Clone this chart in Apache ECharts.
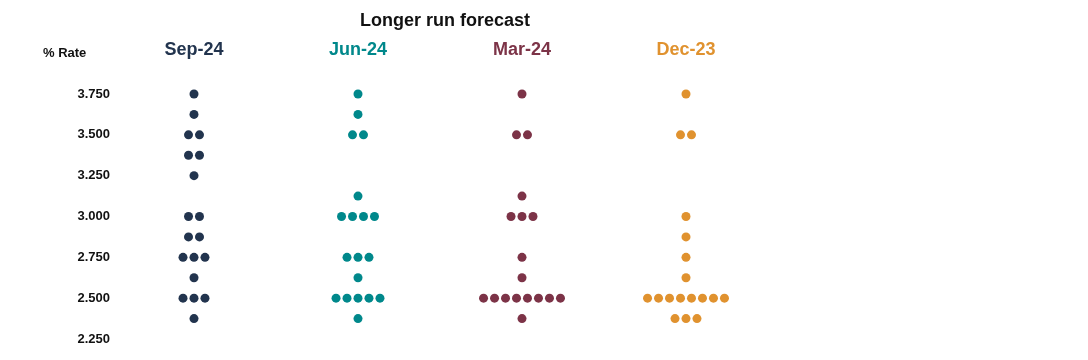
<!DOCTYPE html>
<html>
<head>
<meta charset="utf-8">
<script src="https://cdn.jsdelivr.net/npm/echarts@6/dist/echarts.min.js"></script>
<style>html,body{margin:0;padding:0;background:#fff}#c{width:1088px;height:360px}</style>
</head>
<body>
<div id="c"></div>
<script>
// Columns (meetings)
const categories = ['Sep-24', 'Jun-24', 'Mar-24', 'Dec-23'];
const colors = ['#22344e', '#00888b', '#7c3347', '#e0922f'];
// [rate, number of dots]
const sep24 = [[3.75,1],[3.625,1],[3.5,2],[3.375,2],[3.25,1],[3.0,2],[2.875,2],[2.75,3],[2.625,1],[2.5,3],[2.375,1]];
const jun24 = [[3.75,1],[3.625,1],[3.5,2],[3.125,1],[3.0,4],[2.75,3],[2.625,1],[2.5,5],[2.375,1]];
const mar24 = [[3.75,1],[3.5,2],[3.125,1],[3.0,3],[2.75,1],[2.625,1],[2.5,8],[2.375,1]];
const dec23 = [[3.75,1],[3.5,2],[3.0,1],[2.875,1],[2.75,1],[2.625,1],[2.5,8],[2.375,3]];
const yTicks = [2.25, 2.5, 2.75, 3.0, 3.25, 3.5, 3.75];

const groups = [sep24, jun24, mar24, dec23];
const step = 0.067; // horizontal spacing between dots, in column units

function dots(rows, col) {
  const out = [];
  rows.forEach(([rate, n]) => {
    for (let j = 0; j < n; j++) out.push([col + (j - (n - 1) / 2) * step, rate]);
  });
  return out;
}

const chart = echarts.init(document.getElementById('c'));
chart.setOption({
  animation: false,
  title: [
    { text: 'Longer run forecast', left: 355, top: 7,
      textStyle: { fontFamily: 'Liberation Sans', fontWeight: 'bold', fontSize: 18, color: '#111' } },
    { text: '% Rate', left: 38, top: 42,
      textStyle: { fontFamily: 'Liberation Sans', fontWeight: 'bold', fontSize: 13, color: '#111' } }
  ],
  grid: { left: 112, top: 94, width: 820, bottom: 21 },
  xAxis: [
    { type: 'value', min: -0.5, max: 4.5, show: false },
    { type: 'category', position: 'top', data: categories.concat(['']), boundaryGap: true,
      axisLine: { show: false }, axisTick: { show: false }, splitLine: { show: false },
      axisLabel: { margin: 35, fontFamily: 'Liberation Sans', fontWeight: 'bold', fontSize: 18,
        color: (v, i) => colors[i] || '#000' } }
  ],
  yAxis: {
    type: 'value', min: yTicks[0], max: yTicks[yTicks.length - 1], interval: 0.25,
    axisLine: { show: false }, axisTick: { show: false }, splitLine: { show: false },
    axisLabel: { margin: 2, fontFamily: 'Liberation Sans', fontWeight: 'bold', fontSize: 13, color: '#111',
      formatter: v => v.toFixed(3) }
  },
  series: groups.map((g, i) => ({
    type: 'scatter', name: categories[i], xAxisIndex: 0, data: dots(g, i),
    symbolSize: 9, clip: false, itemStyle: { color: colors[i], opacity: 1 }
  }))
});
</script>
</body>
</html>
